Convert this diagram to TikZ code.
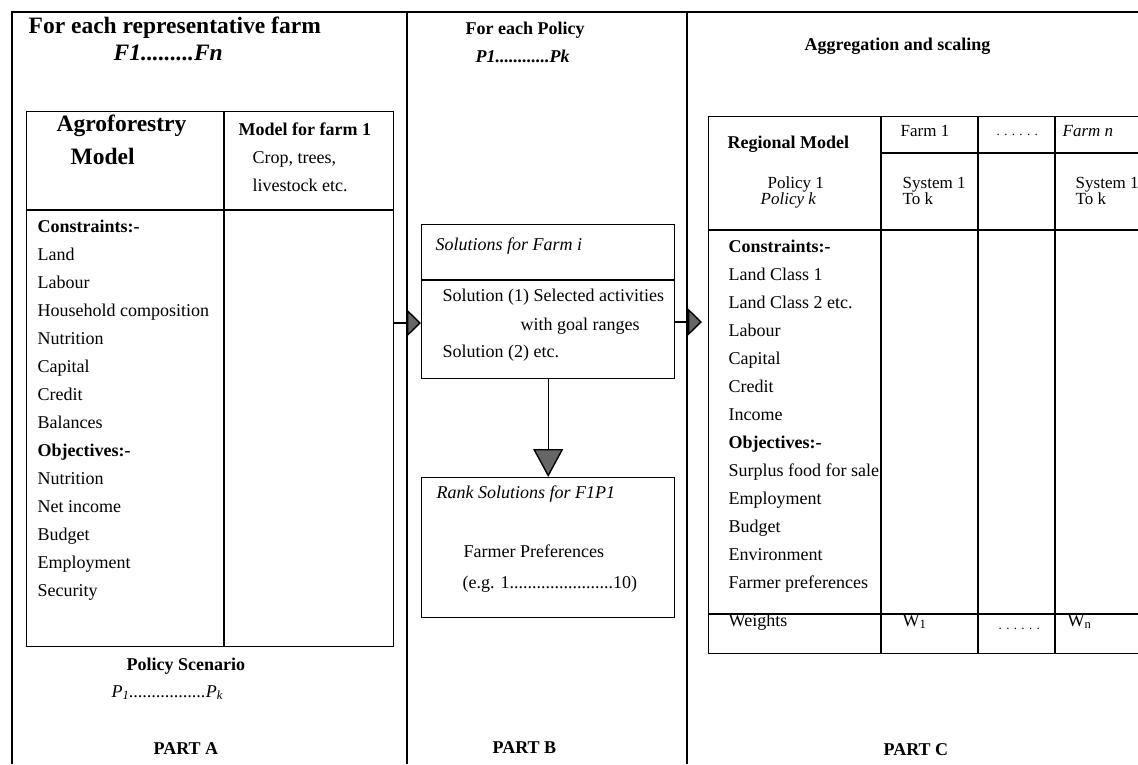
\documentclass[tikz,border=0pt]{standalone}
\usepackage{fontspec}
\setmainfont{Liberation Serif}
\usetikzlibrary{arrows.meta}
\newcommand\fsz{\fontsize{18}{20}\selectfont}
\newcommand\fsm{\fontsize{17}{19}\selectfont}
\newcommand\fbig{\fontsize{23.5}{26}\selectfont}
\newcommand\fdot{\fontsize{13}{15}\selectfont}
\begin{document}
\begin{tikzpicture}[x=1pt,y=-1pt,line width=1.4pt,
  t/.style={anchor=base west,inner sep=0pt,font=\fsz},
  tb/.style={anchor=base west,inner sep=0pt,font=\fsz\bfseries},
  ti/.style={anchor=base west,inner sep=0pt,font=\fsz\itshape},
  big/.style={anchor=base west,inner sep=0pt,font=\fbig\bfseries},
  frame/.style={draw,line width=1.4pt,inner sep=0pt,anchor=north west},
  tipR/.style={-{Triangle[length=14pt,width=27pt,fill=black!60]}},
  tipD/.style={-{Triangle[length=28pt,width=30pt,fill=black!60]}}]
\useasboundingbox (0,0) rectangle (1138,764);
\clip (0,0) rectangle (1138,764);
% outer frame
\draw (12,764) -- (12,12) -- (1145,12);
\draw (407,12) -- (407,764);
\draw (687,12) -- (687,764);

% ---------- PART A ----------
\node[big] (ta1) at (28,33) {For each representative farm};
\node[big,font=\fbig\bfseries\itshape] (ta2) at (113,60) {F1.........Fn};
\node[frame,minimum width=367pt,minimum height=535pt] (tabA) at (26,111) {};
\draw (26,210) -- (393,210);
\draw (224,111) -- (224,646);
\node[big] (agro) at (56,131) {Agroforestry};
\node[big] (agro2) at (70,164) {Model};
\node[tb] (mf) at (238,135) {Model for farm 1};
\node[t] (mf2) at (252,163) {Crop, trees,};
\node[t] (mf3) at (252,191) {livestock etc.};
\node[tb] (a1) at (37,232) {Constraints:-};
\node[t] (a2) at (37,260) {Land};
\node[t] (a3) at (37,288) {Labour};
\node[t] (a4) at (37,316) {Household composition};
\node[t] (a5) at (37,344) {Nutrition};
\node[t] (a6) at (37,372) {Capital};
\node[t] (a7) at (37,400) {Credit};
\node[t] (a8) at (37,428) {Balances};
\node[tb] (a9) at (37,456) {Objectives:-};
\node[t] (a10) at (37,484) {Nutrition};
\node[t] (a11) at (37,512) {Net income};
\node[t] (a12) at (37,540) {Budget};
\node[t] (a13) at (37,568) {Employment};
\node[t] (a14) at (37,596) {Security};
\node[tb] (ps) at (126,670) {Policy Scenario};
\node[ti] (ps2) at (111,697) {P\textsubscript{1}.................P\textsubscript{k}};
\node[tb] (pa) at (153,754) {PART A};

% ---------- PART B ----------
\node[tb] (tb1) at (465,34) {For each Policy};
\node[tb,font=\fsz\bfseries\itshape] (tb2) at (475,62) {P1............Pk};
\node[frame,minimum width=253pt,minimum height=154pt] (sol) at (421,224) {};
\draw (421,280) -- (674,280);
\node[ti] (s1) at (435,250) {Solutions for Farm i};
\node[t] (s2) at (442,301) {Solution (1) Selected activities};
\node[t] (s3) at (520,330) {with goal ranges};
\node[t] (s4) at (442,357) {Solution (2) etc.};
\node[frame,minimum width=253pt,minimum height=140pt] (rank) at (421,477) {};
\node[ti] (r1) at (436,498) {Rank Solutions for F1P1};
\node[t] (r2) at (463,557) {Farmer Preferences};
\node[t] (r3) at (462,588) {(e.g. 1.......................10)};
\node[tb] (pb) at (492,753) {PART B};

% ---------- PART C ----------
\node[tb] (tc1) at (804,50) {Aggregation and scaling};
\node[frame,minimum width=450pt,minimum height=537pt] (tabC) at (708,116) {};
\draw (881,153) -- (1160,153);
\draw (708,230) -- (1160,230);
\draw (708,614) -- (1160,614);
\draw (881,116) -- (881,653);
\draw (978,116) -- (978,653);
\draw (1055,116) -- (1055,653);
\node[tb] (rm) at (727,148) {Regional Model};
\node[t,font=\fsm] (p1) at (767,188) {Policy 1};
\node[ti,font=\fsm\itshape] (pk) at (760,204) {Policy k};
\node[t,font=\fsm] (f1) at (900,136) {Farm 1};
\node[t,font=\fdot] (fd) at (996,135) {. . . . . .};
\node[ti,font=\fsm\itshape] (fn) at (1062,136) {Farm n};
\node[t,font=\fsm] (sy1) at (902,188) {System 1};
\node[t,font=\fsm] (sy2) at (902,204) {To k};
\node[t,font=\fsm] (sy3) at (1075,188) {System 1};
\node[t,font=\fsm] (sy4) at (1075,204) {To k};
\node[tb] (c1) at (728,252) {Constraints:-};
\node[t] (c2) at (728,280) {Land Class 1};
\node[t] (c3) at (728,308) {Land Class 2 etc.};
\node[t] (c4) at (728,336) {Labour};
\node[t] (c5) at (728,364) {Capital};
\node[t] (c6) at (728,392) {Credit};
\node[t] (c7) at (728,420) {Income};
\node[tb] (c8) at (728,448) {Objectives:-};
\node[t] (c9) at (728,476) {Surplus food for sale};
\node[t] (c10) at (728,504) {Employment};
\node[t] (c11) at (728,532) {Budget};
\node[t] (c12) at (728,560) {Environment};
\node[t] (c13) at (728,588) {Farmer preferences};
\node[t] (c14) at (728,626) {Weights};
\node[t] (w1) at (902,626) {W\textsubscript{1}};
\node[t,font=\fdot] (wd) at (998,629) {. . . . . .};
\node[t] (wn) at (1067,626) {W\textsubscript{n}};
\node[tb] (pc) at (883,755) {PART C};

% ---------- connectors ----------
\draw[tipR] (tabA.east |- 0,323) -- (sol.west |- 0,323);
\draw[tipR,shorten >=6pt] (sol.east |- 0,322) -- (tabC.west |- 0,322);
\draw[tipD] (sol.south) -- (rank.north);
\end{tikzpicture}
\end{document}
